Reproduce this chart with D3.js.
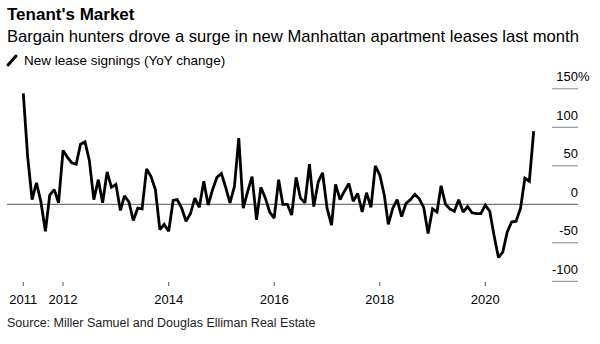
<!DOCTYPE html>
<html>
<head>
<meta charset="utf-8">
<script src="https://cdn.jsdelivr.net/npm/d3@7"></script>
<style>
  html, body { margin: 0; padding: 0; background: #fff; }
  svg { display: block; font-family: "Liberation Sans", Arial, Helvetica, sans-serif; }
</style>
</head>
<body>
<svg id="chart" width="600" height="344"></svg>
<script>
// Monthly series, April 2011 through December 2020
const firstMonth = "2011-04";
const leaseChange = [
  144, 62, 6, 28, 3, -35, 12, 19, 2, 70,
  61, 54, 52, 78, 81, 57, 6, 32, 2, 42,
  22, 26, -8, 11, 3, -21, -5, -6, 46, 36,
  19, -33, -26, -35, 5, 6, -5, -22, -12, 8,
  -4, 30, -1, 19, 35, 40, 21, 2, 23, 86,
  -5, 16, 36, -20, 22, 8, -10, -18, 32, 0,
  0, -14, 35, 8, 2, 52, -3, 29, 41, -5,
  -27, 26, 6, 17, 27, 4, 14, -10, 15, -4,
  50, 38, 12, -26, -5, 6, -16, 1, 6, 13,
  7, -4, -38, -6, -10, 24, 0, -6, -9, 6,
  -10, -3, -11, -12, -12, -1, -9, -40, -69, -62,
  -36, -23, -22, -5, 34, 30, 95
];
const yTicks = [-100, -50, 0, 50, 100, 150];
const xTickDates = ["2011-04", "2012-01", "2014-01", "2016-01", "2018-01", "2020-01"];
const xTickLabels = ["2011", "2012", "2014", "2016", "2018", "2020"];

const parseMonth = d3.timeParse("%Y-%m");
const start = parseMonth(firstMonth);
const series = leaseChange.map((v, i) => ({ date: d3.timeMonth.offset(start, i), value: v }));

const svg = d3.select("#chart");

// Header
svg.append("text").attr("x", 7).attr("y", 20)
  .attr("font-size", 17).attr("font-weight", "bold").attr("fill", "#000")
  .text("Tenant's Market");
svg.append("text").attr("x", 7).attr("y", 42)
  .attr("font-size", 16.6).attr("fill", "#000")
  .text("Bargain hunters drove a surge in new Manhattan apartment leases last month");

// Legend
svg.append("line").attr("x1", 8).attr("y1", 65).attr("x2", 16).attr("y2", 56)
  .attr("stroke", "#000").attr("stroke-width", 3).attr("stroke-linecap", "round");
svg.append("text").attr("x", 24).attr("y", 65)
  .attr("font-size", 13.5).attr("fill", "#000")
  .text("New lease signings (YoY change)");

// Scales
const x = d3.scaleTime()
  .domain([series[0].date, series[series.length - 1].date])
  .range([23.3, 533.7]);
const y = d3.scaleLinear().domain([-100, 150]).range([281.3, 88.8]);

const gridLeft = 7, tickLeft = 552, gridRight = 578;

// Y gridlines / ticks on the right
const yg = svg.append("g");
yTicks.forEach(t => {
  yg.append("line")
    .attr("x1", t === 0 ? gridLeft : tickLeft).attr("x2", gridRight)
    .attr("y1", y(t)).attr("y2", y(t))
    .attr("stroke", t === 0 ? "#555" : "#888").attr("stroke-width", 1);
  const lbl = yg.append("text")
    .attr("x", gridRight).attr("y", y(t) - 7.5)
    .attr("text-anchor", "end").attr("font-size", 13).attr("fill", "#000")
    .text(t);
  if (t === 150) {
    yg.append("text").attr("x", gridRight).attr("y", y(t) - 7.5)
      .attr("font-size", 13).attr("fill", "#000").text("%");
  }
});

// X axis ticks
const xg = svg.append("g");
xTickDates.forEach((d, i) => {
  const px = x(parseMonth(d));
  xg.append("line").attr("x1", px).attr("x2", px).attr("y1", 282).attr("y2", 286)
    .attr("stroke", "#555").attr("stroke-width", 1);
  xg.append("text").attr("x", px).attr("y", 304)
    .attr("text-anchor", "middle").attr("font-size", 13).attr("fill", "#000")
    .text(xTickLabels[i]);
});

// Series line
const line = d3.line().x(d => x(d.date)).y(d => y(d.value));
svg.append("path").datum(series)
  .attr("d", line)
  .attr("fill", "none").attr("stroke", "#000")
  .attr("stroke-width", 2.8).attr("stroke-linejoin", "miter").attr("stroke-miterlimit", 2);

// Source
svg.append("text").attr("x", 7).attr("y", 327)
  .attr("font-size", 12.5).attr("fill", "#222")
  .text("Source: Miller Samuel and Douglas Elliman Real Estate");
</script>
</body>
</html>
